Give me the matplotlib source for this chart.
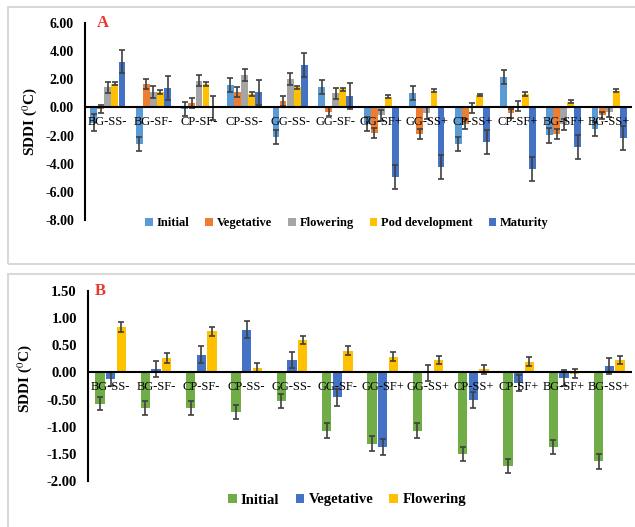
import numpy as np
import matplotlib.pyplot as plt
from matplotlib.patches import Rectangle

plt.rcParams['font.family'] = ['Liberation Serif', 'DejaVu Serif']
plt.rcParams['mathtext.fontset'] = 'stix'

# Panel A data
cats_a = ['BG-SS-', 'BG-SF-', 'CP-SF-', 'CP-SS-', 'GG-SS-', 'GG-SF-',
          'GG-SF+', 'GG-SS+', 'CP-SS+', 'CP-SF+', 'BG-SF+', 'BG-SS+']
stages_a = ['Initial', 'Vegetative', 'Flowering', 'Pod development', 'Maturity']
initial_a = [-1.1, -2.6, -0.1, 1.62, -2.1, 1.48, -1.2, 1.0, -2.62, 2.19, -1.98, -1.5]
vegetative_a = [-0.1, 1.67, 0.3, 1.07, 0.48, -0.3, -1.8, -1.86, -1.19, -0.43, -1.86, -0.55]
flowering_a = [1.43, 1.1, 1.9, 2.3, 2.02, 1.0, -0.55, -0.4, -0.05, 0.1, -1.2, -0.3]
pod_a = [1.7, 1.1, 1.67, 0.95, 1.43, 1.29, 0.76, 1.19, 0.88, 0.95, 0.4, 1.19]
maturity_a = [3.26, 1.4, -0.05, 1.07, 3.02, 0.81, -4.95, -4.24, -2.45, -4.36, -2.81, -2.14]
err_initial_a = [0.6, 0.5, 0.5, 0.5, 0.5, 0.5, 0.5, 0.5, 0.5, 0.5, 0.55, 0.5]
err_vegetative_a = [0.3, 0.35, 0.35, 0.35, 0.35, 0.3, 0.35, 0.35, 0.35, 0.35, 0.35, 0.25]
err_flowering_a = [0.4, 0.4, 0.4, 0.4, 0.4, 0.4, 0.4, 0.4, 0.35, 0.38, 0.4, 0.35]
err_pod_a = [0.1, 0.15, 0.15, 0.15, 0.1, 0.1, 0.1, 0.1, 0.1, 0.12, 0.1, 0.1]
err_maturity_a = [0.8, 0.85, 0.85, 0.9, 0.85, 0.9, 0.85, 0.85, 0.85, 0.85, 0.85, 0.85]
yticks_a = [6, 4, 2, 0, -2, -4, -6, -8]

# Panel B data
cats_b = cats_a
stages_b = ['Initial', 'Vegetative', 'Flowering']
initial_b = [-0.58, -0.66, -0.66, -0.73, -0.52, -1.07, -1.31, -1.07, -1.5, -1.72, -1.38, -1.64]
vegetative_b = [-0.12, 0.06, 0.33, 0.79, 0.23, -0.46, -1.38, -0.01, -0.51, -0.2, -0.1, 0.12]
flowering_b = [0.83, 0.26, 0.76, 0.09, 0.6, 0.4, 0.29, 0.23, 0.06, 0.2, -0.02, 0.23]
err_initial_b = [0.12, 0.13, 0.13, 0.13, 0.13, 0.13, 0.13, 0.13, 0.13, 0.13, 0.13, 0.13]
err_vegetative_b = [0.13, 0.15, 0.15, 0.15, 0.15, 0.15, 0.15, 0.15, 0.15, 0.15, 0.15, 0.15]
err_flowering_b = [0.09, 0.09, 0.08, 0.08, 0.08, 0.08, 0.08, 0.08, 0.08, 0.08, 0.08, 0.08]
yticks_b = [1.5, 1.0, 0.5, 0, -0.5, -1.0, -1.5, -2.0]

colors_a = ['#5B9BD5', '#ED7D31', '#A5A5A5', '#FFC000', '#4472C4']
colors_b = ['#70AD47', '#4472C4', '#FFC000']

W, H = 635, 527
fig = plt.figure(figsize=(W / 100, H / 100), dpi=100)

# gray panel frames
fig.patches.append(Rectangle((8 / W, 1 - 264 / H), 640 / W, 257 / H, transform=fig.transFigure,
                             fill=False, edgecolor='#d9d9d9', lw=1.5))
fig.patches.append(Rectangle((8 / W, -0.05), 640 / W, 1 - 274 / H + 0.05, transform=fig.transFigure,
                             fill=False, edgecolor='#d9d9d9', lw=1.5))


def draw_panel(ax, cats, series, errs, colors, labels, width, step, ylim, yticks, letter,
               tick_size, letter_x, label_xy):
    x = np.arange(len(cats))
    n = len(series)
    handles = []
    for i, (vals, err) in enumerate(zip(series, errs)):
        pos = x + (i - (n - 1) / 2) * step
        b = ax.bar(pos, vals, width, color=colors[i], label=labels[i], zorder=2)
        ax.errorbar(pos, vals, yerr=err, fmt='none', ecolor='#404040', elinewidth=1.2,
                    capsize=2.5, capthick=1.2, zorder=3)
        handles.append(b)
    ax.axhline(0, color='black', lw=1.5, zorder=4)
    ax.set_xlim(-0.5, len(cats) - 0.5)
    ax.set_ylim(*ylim)
    ax.set_yticks(yticks)
    ax.set_yticklabels(['%.2f' % v for v in yticks], fontsize=tick_size, fontweight='bold')
    ax.tick_params(axis='y', length=0, pad=8)
    ax.set_xticks([])
    for s in ['top', 'right', 'bottom']:
        ax.spines[s].set_visible(False)
    ax.spines['left'].set_linewidth(1.5)
    # category names sit just under the zero line
    off = (ylim[1] - ylim[0]) * 0.045
    for xi, c in zip(x, cats):
        ax.text(xi, -off, c, ha='center', va='top', fontsize=9, zorder=5)
    ax.text(letter_x, 1.0, letter, transform=ax.transAxes, color='#E8392F', fontsize=12,
            fontweight='bold', ha='left', va='center')
    ax.set_ylabel('SDDI ($^{0}$C)', fontsize=11, fontweight='bold')
    ax.yaxis.set_label_coords(*label_xy)
    return handles


ax_a = fig.add_axes([85 / W, 1 - 220 / H, (632 - 85) / W, (220 - 23) / H])
h_a = draw_panel(ax_a, cats_a,
                 [initial_a, vegetative_a, flowering_a, pod_a, maturity_a],
                 [err_initial_a, err_vegetative_a, err_flowering_a, err_pod_a, err_maturity_a],
                 colors_a, stages_a, 0.15, 0.155, (-8, 6), yticks_a, 'A', 10, 0.022,
                 ((39 - 85) / 547, 0.5))
fig.legend(handles=h_a, labels=stages_a, loc='center', bbox_to_anchor=(347 / W, 1 - 223 / H),
           ncol=5, frameon=False, prop={'weight': 'bold', 'size': 9},
           handlelength=0.6, handleheight=0.6, handletextpad=0.3, columnspacing=1.3)

ax_b = fig.add_axes([88 / W, 1 - 481 / H, (632 - 88) / W, (481 - 291) / H])
h_b = draw_panel(ax_b, cats_b,
                 [initial_b, vegetative_b, flowering_b],
                 [err_initial_b, err_vegetative_b, err_flowering_b],
                 colors_b, stages_b, 0.2, 0.235, (-2, 1.5), yticks_b, 'B', 10.5, 0.013,
                 ((34 - 88) / 544, (481 - 378) / 190))
fig.legend(handles=h_b, labels=stages_b, loc='center', bbox_to_anchor=(347 / W, 1 - 500 / H),
           ncol=3, frameon=False, prop={'weight': 'bold', 'size': 10.5},
           handlelength=0.6, handleheight=0.6, handletextpad=0.3, columnspacing=1.1)

fig.savefig('out.png', dpi=100)
